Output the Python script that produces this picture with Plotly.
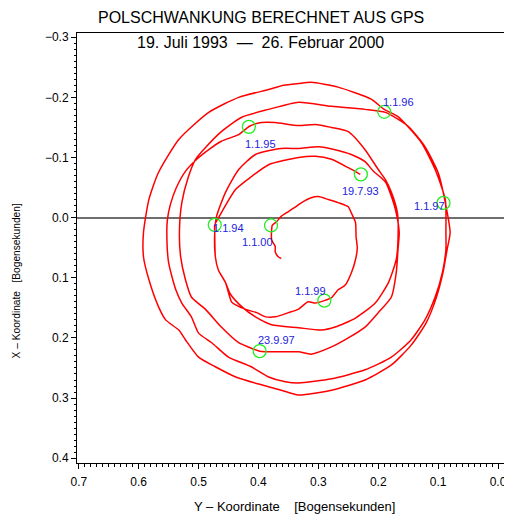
import plotly.graph_objects as go

# ---- data (Y-Koordinate, X-Koordinate) in arc seconds ----
loop1 = [(0.230,-0.072),(0.250,-0.083),(0.278,-0.097),(0.305,-0.102),(0.333,-0.100),(0.383,-0.088),
         (0.412,-0.068),(0.438,-0.047),(0.462,-0.008),(0.473,0.012),(0.473,0.025),(0.472,0.065),
         (0.467,0.087),(0.455,0.108),(0.447,0.127),(0.428,0.148),(0.405,0.165),(0.378,0.178),
         (0.333,0.183),(0.295,0.187),(0.272,0.182),(0.238,0.167),(0.205,0.142),(0.183,0.108),
         (0.170,0.070),(0.167,0.037),(0.168,-0.008),(0.178,-0.042),(0.188,-0.063),(0.200,-0.080),
         (0.222,-0.113),(0.250,-0.143),(0.278,-0.150),(0.305,-0.155),(0.333,-0.153),(0.372,-0.158),
         (0.395,-0.158),(0.415,-0.152)]
loop2 = [(0.433,-0.138),(0.462,-0.127),(0.483,-0.113),(0.503,-0.097),(0.522,-0.077),(0.537,-0.050),
         (0.547,-0.022),(0.552,0.003),(0.553,0.025),(0.550,0.075),(0.538,0.120),(0.528,0.142),
         (0.512,0.165),(0.500,0.192),(0.478,0.208),(0.450,0.232),(0.412,0.248),(0.383,0.265),
         (0.355,0.273),(0.333,0.275),(0.278,0.268),(0.222,0.253),(0.178,0.232),(0.145,0.203),
         (0.122,0.170),(0.105,0.132),(0.093,0.092),(0.087,0.053),(0.087,0.025),(0.088,-0.030),
         (0.105,-0.080),(0.128,-0.125),(0.167,-0.168),(0.190,-0.180),(0.212,-0.197),(0.267,-0.217),
         (0.312,-0.225),(0.333,-0.223)]
loop3 = [(0.358,-0.220),(0.383,-0.213),(0.433,-0.200),(0.483,-0.175),(0.533,-0.130),(0.567,-0.075),
         (0.583,-0.030),(0.592,0.025),(0.592,0.065),(0.583,0.103),(0.567,0.148),(0.555,0.170),
         (0.533,0.187),(0.522,0.203),(0.500,0.232),(0.472,0.248),(0.438,0.265),(0.395,0.278),
         (0.362,0.287),(0.333,0.295),(0.278,0.287),(0.222,0.270),(0.178,0.245),(0.145,0.212),
         (0.120,0.175),(0.103,0.133),(0.092,0.092),(0.085,0.053),(0.080,0.025),(0.088,-0.025),
         (0.100,-0.075),(0.122,-0.118),(0.150,-0.152),(0.188,-0.175),(0.222,-0.180),(0.278,-0.185),
         (0.333,-0.192)]
loop4 = [(0.383,-0.180),(0.428,-0.167),(0.462,-0.143),(0.488,-0.117),(0.505,-0.097),(0.517,-0.068),
         (0.528,-0.025),(0.532,0.025),(0.530,0.065),(0.522,0.103),(0.512,0.132),(0.488,0.153),
         (0.462,0.182),(0.433,0.208),(0.417,0.215),(0.398,0.222),(0.362,0.223),(0.333,0.223),
         (0.312,0.227),(0.278,0.215),(0.250,0.200),(0.222,0.182),(0.200,0.158),(0.178,0.132),
         (0.170,0.092),(0.167,0.053),(0.165,0.025),(0.170,-0.008),(0.178,-0.035),(0.187,-0.058),
         (0.197,-0.068),(0.208,-0.077),(0.222,-0.093),(0.245,-0.105),(0.272,-0.113),(0.300,-0.118),
         (0.333,-0.115)]
loop5 = [(0.362,-0.115),(0.405,-0.105),(0.433,-0.080),(0.455,-0.042),(0.470,-0.002),(0.473,0.025),
         (0.472,0.065),(0.467,0.087),(0.455,0.108),(0.445,0.140),(0.438,0.145),(0.420,0.153),
         (0.403,0.158),(0.388,0.165),(0.372,0.165),(0.350,0.158),(0.333,0.152),(0.317,0.140),
         (0.305,0.142),(0.290,0.138)]
loop6 = [(0.278,0.133),(0.267,0.120),(0.255,0.112),(0.245,0.092),(0.238,0.070),(0.235,0.050),
         (0.237,0.032),(0.238,0.008),(0.245,-0.008),(0.250,-0.018),(0.267,-0.025),(0.283,-0.030),
         (0.300,-0.035),(0.312,-0.033),(0.328,-0.025),(0.338,-0.018),(0.350,-0.010),(0.362,-0.002),
         (0.370,0.007),(0.377,0.013),(0.378,0.020),(0.378,0.037),(0.372,0.048),(0.372,0.057),
         (0.367,0.065),(0.362,0.068)]

date_labels = ["19.7.93", "1.1.94", "1.1.95", "1.1.96", "1.1.97", "23.9.97", "1.1.99", "1.1.00"]
date_y = [0.229, 0.473, 0.416, 0.190, 0.091, 0.398, 0.290, 0.379]
date_x = [-0.072, 0.012, -0.151, -0.176, -0.0245, 0.222, 0.138, 0.013]

xticks = [0.7, 0.6, 0.5, 0.4, 0.3, 0.2, 0.1, 0.0]
xticktext = ["0.7", "0.6", "0.5", "0.4", "0.3", "0.2", "0.1", "0.0"]
yticks = [-0.3, -0.2, -0.1, 0.0, 0.1, 0.2, 0.3, 0.4]
yticktext = ["\u22120.3", "\u22120.2", "\u22120.1", "0.0", "0.1", "0.2", "0.3", "0.4"]

# label offsets in pixels (style)
label_shift = [(0, -17), (14, -3), (12, -17), (14, 10), (-14, -3), (17, 11), (-14, 10), (-14, -17)]

path = loop1 + loop2 + loop3 + loop4 + loop5 + loop6
py_ = [p[0] for p in path]
px_ = [p[1] for p in path]

FONT = "Liberation Sans, Arial, Helvetica, sans-serif"

fig = go.Figure()
fig.add_trace(go.Scatter(x=py_, y=px_, mode="lines",
                         line=dict(color="#ff0000", width=1.5, shape="spline", smoothing=0.6),
                         hoverinfo="skip"))
fig.add_trace(go.Scatter(x=date_y, y=date_x, mode="markers",
                         marker=dict(symbol="circle-open", size=13, color="#22ee22",
                                     line=dict(width=1.3, color="#22ee22")),
                         hoverinfo="skip"))

for lab, yy, xx, (dx, dy) in zip(date_labels, date_y, date_x, label_shift):
    fig.add_annotation(x=yy, y=xx, text=lab, showarrow=False, xshift=dx, yshift=dy,
                       font=dict(family=FONT, size=11, color="#2222dd"))

fig.add_annotation(xref="paper", yref="paper", x=0.43, y=1.0349, text="POLSCHWANKUNG BERECHNET AUS GPS",
                   showarrow=False, xanchor="center", yanchor="middle",
                   font=dict(family=FONT, size=16, color="black"))
fig.add_annotation(xref="paper", yref="paper", x=0.43, y=0.979,
                   text="19. Juli 1993 \u00a0\u2014\u00a0 26. Februar 2000",
                   showarrow=False, xanchor="center", yanchor="middle",
                   font=dict(family=FONT, size=16, color="black"))
fig.add_annotation(xref="paper", yref="paper", x=0.509, y=-0.102,
                   text="Y \u2013 Koordinate \u00a0\u00a0\u00a0[Bogensekunden]",
                   showarrow=False, xanchor="center", yanchor="middle",
                   font=dict(family=FONT, size=13, color="black"))
fig.add_annotation(xref="paper", yref="paper", x=-0.1395, y=0.4233,
                   text="X \u2013 Koordinate \u00a0\u00a0[Bogensekunden]", textangle=-90,
                   showarrow=False, xanchor="center", yanchor="middle",
                   font=dict(family=FONT, size=10.2, color="black"))

# page body has an 8px margin: shift the figure so the plot box lands where the reference has it
fig.update_layout(width=504, height=508, margin=dict(l=69, r=5, t=25, b=53),
                  paper_bgcolor="white", plot_bgcolor="white", showlegend=False,
                  font=dict(family=FONT, size=12, color="black"))
fig.update_xaxes(range=[0.703, -0.010], tickvals=xticks, ticktext=xticktext,
                 ticks="outside", ticklen=5, tickwidth=1, tickcolor="black",
                 showline=True, linecolor="black", linewidth=1, mirror=True,
                 showgrid=False, zeroline=False, ticklabelstandoff=3,
                 tickfont=dict(family=FONT, size=12, color="black"),
                 minor=dict(dtick=0.01, tick0=0, ticks="outside", ticklen=2.5,
                            tickcolor="black", tickwidth=1, showgrid=False))
fig.update_yaxes(range=[0.408, -0.307], tickvals=yticks, ticktext=yticktext,
                 ticks="outside", ticklen=5, tickwidth=1, tickcolor="black",
                 showline=True, linecolor="black", linewidth=1, mirror=True,
                 showgrid=False, zeroline=True, zerolinecolor="#6e6e6e", zerolinewidth=1.5,
                 tickfont=dict(family=FONT, size=12, color="black"),
                 minor=dict(dtick=0.01, tick0=0, ticks="outside", ticklen=2.5,
                            tickcolor="black", tickwidth=1, showgrid=False))

fig.write_html("out.html")
